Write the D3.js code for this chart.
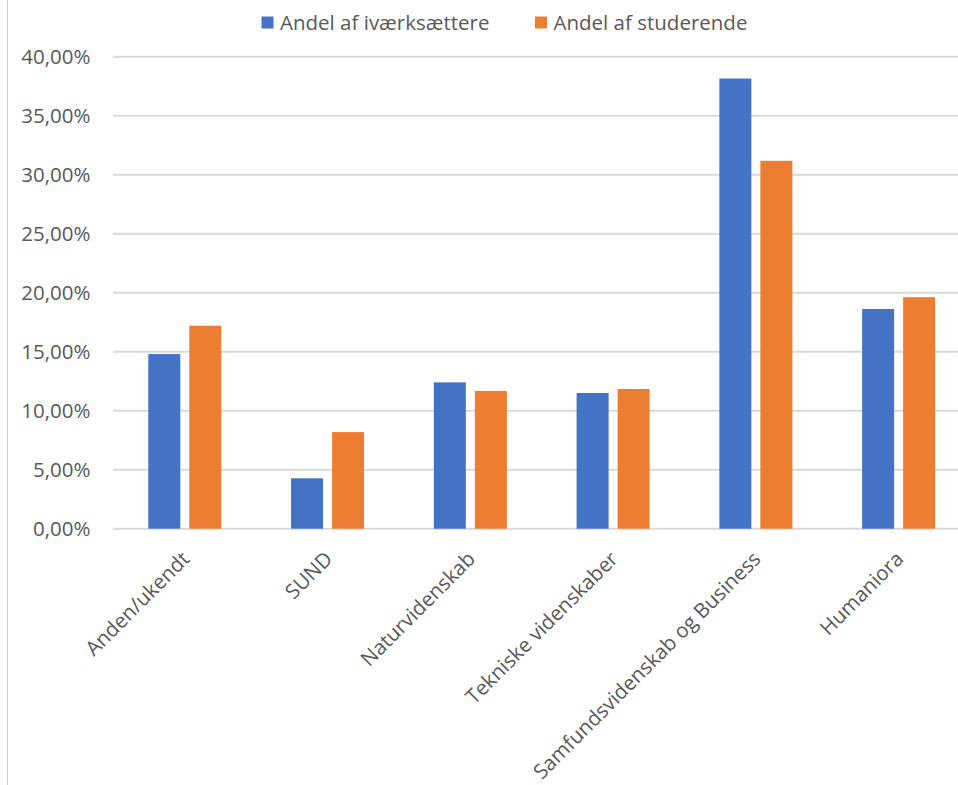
<!DOCTYPE html>
<html><head><meta charset="utf-8">
<script src="https://cdn.jsdelivr.net/npm/d3@7"></script>
<style>html,body{margin:0;padding:0;background:#fff;}svg{display:block;}</style>
</head><body>
<script>
const categories = ["Anden/ukendt","SUND","Naturvidenskab","Tekniske videnskaber","Samfundsvidenskab og Business","Humaniora"];
const seriesNames = ["Andel af iværksættere","Andel af studerende"];
const ivaerksaettere = [14.8, 4.27, 12.4, 11.5, 38.15, 18.62];
const studerende = [17.2, 8.19, 11.67, 11.84, 31.18, 19.62];
const yTicks = [0,5,10,15,20,25,30,35,40];
const colors = ["#4472C4","#ED7D31"];

const W = 958, H = 785;
const font = "'Open Sans', sans-serif";
const svg = d3.select("body").append("svg").attr("width",W).attr("height",H);

svg.append("line").attr("x1",7.5).attr("x2",7.5).attr("y1",0).attr("y2",H)
  .attr("stroke","#d0d0d0").attr("stroke-width",1);

const y = d3.scaleLinear().domain([0,40]).range([528.7,56.7]);
const x0 = d3.scaleBand().domain(categories).range([113.3,969.9]).padding(0);
const x1 = d3.scaleBand().domain(seriesNames).range([35,108]).paddingInner(0.2195).paddingOuter(0);

// gridlines
svg.append("g").selectAll("line").data(yTicks).join("line")
  .attr("x1",113).attr("x2",W).attr("y1",d=>y(d)).attr("y2",d=>y(d))
  .attr("stroke","#d9d9d9").attr("stroke-width",2);

// y labels
const fmt = v => v.toFixed(2).replace(".",",") + "%";
svg.append("g").selectAll("text").data(yTicks).join("text")
  .attr("x",90.5).attr("y",d=>y(d)).attr("dy","0.36em")
  .attr("text-anchor","end").attr("font-family",font).attr("font-size",20.5)
  .attr("fill","#595959").text(fmt);

// bars
const rows = categories.map((c,i)=>({c, vals:[ivaerksaettere[i], studerende[i]]}));
const g = svg.append("g").selectAll("g").data(rows).join("g")
  .attr("transform",d=>`translate(${x0(d.c)},0)`);
g.selectAll("rect").data(d=>d.vals.map((v,j)=>({s:seriesNames[j],v,j}))).join("rect")
  .attr("x",d=>x1(d.s)).attr("width",x1.bandwidth())
  .attr("y",d=>y(d.v)).attr("height",d=>y(0)-y(d.v))
  .attr("fill",d=>colors[d.j]);

// x labels
svg.append("g").selectAll("text").data(categories).join("text")
  .attr("transform",d=>`translate(${x0(d)+x0.bandwidth()/2+1},${555}) rotate(-45)`)
  .attr("text-anchor","end").attr("dy","0.36em")
  .attr("font-family",font).attr("font-size",20.5).attr("fill","#595959")
  .text(d=>d);

// legend
const legX = [261.5, 535];
const leg = svg.append("g").selectAll("g").data(seriesNames).join("g")
  .attr("transform",(d,i)=>`translate(${legX[i]},0)`);
leg.append("rect").attr("x",0).attr("y",16.5).attr("width",12).attr("height",12)
  .attr("fill",(d,i)=>colors[i]);
leg.append("text").attr("x",18.5).attr("y",22.5).attr("dy","0.36em")
  .attr("font-family",font).attr("font-size",20.5).attr("fill","#595959").text(d=>d);
</script>
</body></html>
